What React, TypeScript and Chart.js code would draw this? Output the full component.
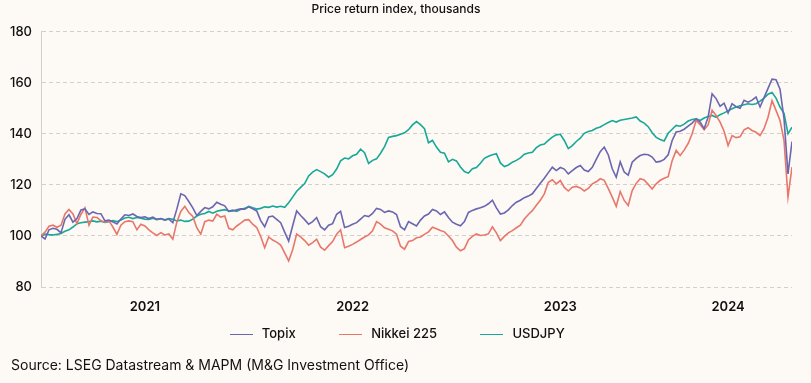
import { useEffect, useRef } from 'react';
import { Chart, registerables } from 'chart.js';

Chart.register(...registerables);

const startYear = 2021;
const weeksPerYear = 52;
const yearLabels = ['2021', '2022', '2023', '2024'];
const seriesNames = ['Topix', 'Nikkei 225', 'USDJPY'];
const chartTitle = 'Price return index, thousands';
const sourceText = 'Source: LSEG Datastream & MAPM (M&G Investment Office)';

const topix = [
  100, 98.8, 102.4, 103.0, 102.6, 101.2, 106.5, 108.3, 105.4, 106.8,
  110.2, 110.6, 108.4, 109.4, 108.8, 108.7, 105.9, 106.2, 105.5, 104.7,
  106.6, 108.3, 108.0, 108.6, 107.6, 107.2, 107.5, 106.8, 107.4, 106.5,
  106.8, 106.2, 106.6, 105.2, 110.5, 116.5, 115.8, 113.5, 111.0, 108.0,
  109.6, 111.1, 110.6, 111.4, 113.2, 112.4, 111.8, 109.6, 109.8, 110.2,
  110.6, 110.5, 111.4, 110.6, 109.8, 106.0, 103.6, 107.4, 107.8, 106.5,
  105.2, 101.5, 98.0, 104.0, 109.8, 108.0, 106.4, 104.6, 105.6, 107.2,
  103.6, 102.4, 104.2, 104.8, 108.5, 109.6, 103.3, 103.8, 104.6, 105.2,
  106.6, 108.0, 107.6, 108.8, 110.8, 110.4, 109.2, 109.8, 109.4, 108.4,
  103.6, 102.4, 105.6, 104.8, 103.9, 106.2, 107.8, 108.6, 110.4, 109.8,
  108.4, 109.4, 107.2, 105.4, 104.6, 104.0, 105.6, 109.2, 110.0, 110.6,
  111.0, 111.6, 112.6, 114.0, 111.0, 108.6, 109.0, 110.2, 111.9, 113.2,
  114.0, 115.0, 115.6, 116.5, 118.6, 120.6, 122.6, 124.8, 126.9, 125.6,
  126.8, 126.2, 124.3, 125.6, 126.8, 127.6, 125.8, 125.2, 126.9, 130.0,
  133.0, 134.8, 131.8, 126.3, 123.0, 129.0, 125.0, 123.8, 128.9, 130.4,
  131.5, 132.0, 131.8, 130.9, 128.9, 129.2, 130.0, 131.8, 137.4, 140.7,
  141.0, 141.8, 143.0, 144.2, 145.9, 144.6, 142.0, 146.5, 155.7, 153.8,
  150.8, 152.0, 148.2, 151.8, 150.6, 150.0, 153.1, 152.4, 153.2, 154.4,
  150.5, 154.2, 157.8, 161.4, 161.2, 157.5, 146.0, 124.3, 137.0,
];

const nikkei = [
  100, 101.5, 103.8, 104.2, 103.4, 104.2, 108.6, 110.4, 108.6, 104.8,
  108.5, 111.0, 104.2, 107.4, 107.2, 106.0, 105.4, 105.9, 103.5, 100.6,
  104.2, 105.6, 105.9, 105.6, 102.4, 104.6, 103.9, 102.4, 101.2, 100.2,
  101.3, 100.4, 100.8, 98.7, 105.4, 109.6, 111.6, 109.2, 107.6, 103.2,
  100.7, 105.6, 106.2, 105.8, 108.5, 107.4, 107.8, 103.0, 102.4, 103.9,
  105.0, 106.2, 106.4, 104.6, 103.3, 99.8, 95.4, 99.6, 98.4, 97.6,
  96.4, 93.4, 90.2, 94.6, 100.7, 99.6, 98.2, 96.4, 97.4, 98.7,
  95.6, 94.4, 96.2, 97.8, 100.7, 102.4, 95.4, 96.0, 96.7, 97.6,
  98.6, 99.6, 100.4, 102.0, 105.6, 104.6, 103.2, 102.6, 102.0, 100.7,
  96.0, 94.8, 97.8, 98.2, 99.3, 99.6, 100.6, 101.6, 103.4, 102.8,
  102.1, 101.6, 100.0, 98.2, 95.6, 94.2, 95.0, 98.4, 99.8, 100.8,
  100.2, 100.4, 100.8, 103.6, 101.2, 98.2, 99.8, 101.2, 102.1, 103.2,
  104.2, 106.6, 108.4, 109.9, 112.0, 114.0, 116.5, 121.0, 122.0, 120.4,
  121.7, 119.0, 117.6, 119.1, 119.4, 118.8, 117.6, 118.6, 120.4, 121.2,
  122.4, 121.8, 118.6, 115.2, 111.6, 117.4, 113.9, 111.9, 117.8, 120.6,
  122.4, 121.9, 120.2, 118.4, 120.4, 121.8, 122.6, 123.2, 129.5, 133.5,
  131.5, 133.6, 136.2, 140.0, 145.2, 143.6, 141.6, 143.5, 149.2, 147.2,
  144.6, 141.0, 135.4, 139.3, 138.5, 138.8, 141.6, 142.4, 141.3, 140.6,
  139.3, 142.0, 146.5, 153.0, 149.2, 145.2, 137.4, 115.2, 127.0,
];

const usdjpy = [
  100, 100.7, 100.5, 100.4, 100.6, 101.0, 101.8, 102.4, 103.5, 104.8,
  105.2, 105.4, 105.6, 105.9, 105.5, 105.8, 105.3, 105.6, 106.0, 105.6,
  106.2, 107.0, 107.3, 106.8, 107.2, 106.9, 106.6, 106.5, 106.9, 106.4,
  106.7, 106.3, 106.8, 106.5, 105.9, 106.2, 105.7, 105.8, 106.6, 107.8,
  108.5, 108.8, 109.6, 108.9, 109.7, 110.0, 110.3, 109.8, 110.1, 109.6,
  110.4, 110.8, 111.6, 111.0, 110.5, 110.8, 111.4, 111.2, 111.7, 111.3,
  111.6, 111.2, 113.0, 115.2, 117.5, 119.0, 120.5, 123.5, 125.0, 126.0,
  125.2, 124.3, 123.0, 124.0, 126.2, 129.4, 130.5, 130.2, 131.4, 132.0,
  134.0, 132.6, 128.4, 129.6, 130.2, 132.4, 135.0, 138.6, 139.0, 139.3,
  139.8, 140.4, 141.6, 143.5, 144.8, 143.6, 142.0, 136.5, 137.4, 134.8,
  132.8, 132.4, 129.0, 130.0, 129.4, 127.0, 125.2, 124.6, 126.3, 126.8,
  128.5, 130.4, 131.2, 131.8, 132.2, 128.6, 127.2, 127.8, 128.9, 129.6,
  130.6, 132.0, 132.5, 132.8, 134.6, 135.6, 136.0, 137.4, 138.7, 139.6,
  139.8, 137.4, 134.2, 135.4, 137.0, 138.3, 140.2, 140.9, 141.3, 142.2,
  142.7, 143.6, 144.4, 145.2, 144.6, 145.3, 145.6, 145.9, 146.2, 146.6,
  145.0, 144.2, 142.8, 140.4, 138.6, 137.8, 137.2, 140.2, 141.8, 143.3,
  143.0, 143.8, 145.0, 145.6, 145.9, 145.2, 146.2, 146.8, 147.2, 146.5,
  147.5, 148.2, 149.0, 149.8, 150.5, 151.0, 151.4, 151.8, 151.5, 151.8,
  152.8, 154.0, 155.5, 156.2, 154.0, 150.5, 148.0, 140.0, 142.6,
];

const seriesValues = [topix, nikkei, usdjpy];
const seriesColors = ['#6a66b0', '#e8776b', '#17a898'];
const FONT = 'Inter, "Noto Sans", sans-serif';
const BG = '#fdf9f4';
const GRID = '#d3cfcb';

function toPoints(values: number[]) {
  return values.map((v, i) => ({ x: startYear + i / weeksPerYear, y: v }));
}

function makeSwatch(color: string) {
  const c = document.createElement('canvas');
  c.width = 23;
  c.height = 1;
  const g = c.getContext('2d');
  if (g) {
    g.fillStyle = color;
    g.fillRect(0, 0, 23, 1);
  }
  return c;
}

export default function App() {
  const canvasRef = useRef<HTMLCanvasElement | null>(null);

  useEffect(() => {
    document.body.style.margin = '0';
    document.body.style.background = BG;
    const canvas = canvasRef.current;
    if (!canvas) return;
    const swatches = seriesColors.map(makeSwatch);
    const chart = new Chart(canvas, {
      type: 'line',
      data: {
        datasets: seriesNames.map((name, i) => ({
          label: name,
          data: toPoints(seriesValues[i]),
          borderColor: seriesColors[i],
          backgroundColor: seriesColors[i],
          borderWidth: 1.6,
          pointRadius: 0,
          tension: 0,
          fill: false,
        })),
      },
      options: {
        responsive: false,
        animation: false,
        devicePixelRatio: 1,
        events: [],
        layout: { padding: { left: 0, right: 19, top: 0, bottom: 30 } },
        scales: {
          x: {
            type: 'linear',
            min: startYear,
            max: startYear + (topix.length - 1) / weeksPerYear,
            grid: { display: false, drawTicks: false },
            border: { display: false },
            afterBuildTicks: (scale: any) => {
              const mx = scale.max;
              scale.ticks = yearLabels.map((l) => {
                const y0 = Math.max(Number(l), scale.min);
                const y1 = Math.min(Number(l) + 1, mx);
                return { value: (y0 + y1) / 2 };
              });
            },
            afterFit: (scale: any) => {
              scale.height = 2;
            },
            ticks: {
              autoSkip: false,
              maxRotation: 0,
              mirror: true,
              padding: 36,
              color: '#111111',
              font: { family: FONT, size: 13, weight: '600' },
              callback: (v: any) => String(Math.floor(Number(v))),
            },
          },
          y: {
            min: 80,
            max: 180,
            ticks: {
              stepSize: 20,
              padding: 9,
              color: '#111111',
              font: { family: FONT, size: 13, weight: '500' },
            },
            grid: { color: GRID, lineWidth: 1, drawTicks: false },
            border: { display: true, color: GRID, width: 1, dash: [4, 3] },
            afterFit: (scale: any) => {
              scale.width = 41;
            },
          },
        },
        plugins: {
          tooltip: { enabled: false },
          title: {
            display: true,
            text: chartTitle,
            color: '#111111',
            font: { family: FONT, size: 12, weight: '500' },
            padding: { top: 2, bottom: 15.3 },
          },
          legend: {
            display: true,
            position: 'bottom',
            weight: -10,
            labels: {
              usePointStyle: true,
              pointStyleWidth: 28,
              padding: 41,
              color: '#111111',
              font: { family: FONT, size: 13, weight: '500' },
              generateLabels: (ch: any) =>
                ch.data.datasets.map((d: any, i: number) => ({
                  text: d.label,
                  fillStyle: seriesColors[i],
                  strokeStyle: seriesColors[i],
                  lineWidth: 0,
                  pointStyle: swatches[i],
                  hidden: false,
                  datasetIndex: i,
                  fontColor: '#111111',
                })),
            },
          },
        },
      } as any,
    });
    return () => chart.destroy();
  }, []);

  return (
    <div style={{ position: 'absolute', left: 0, top: 0, width: 811, height: 383, background: BG, overflow: 'hidden' }}>
      <canvas ref={canvasRef} width={811} height={383} style={{ display: 'block', width: 811, height: 383 }} />
      <div
        style={{
          position: 'absolute',
          left: 11,
          top: 356,
          fontFamily: FONT,
          fontSize: 14,
          lineHeight: '18px',
          fontWeight: 400,
          color: '#111111',
          whiteSpace: 'nowrap',
        }}
      >
        {sourceText}
      </div>
    </div>
  );
}
